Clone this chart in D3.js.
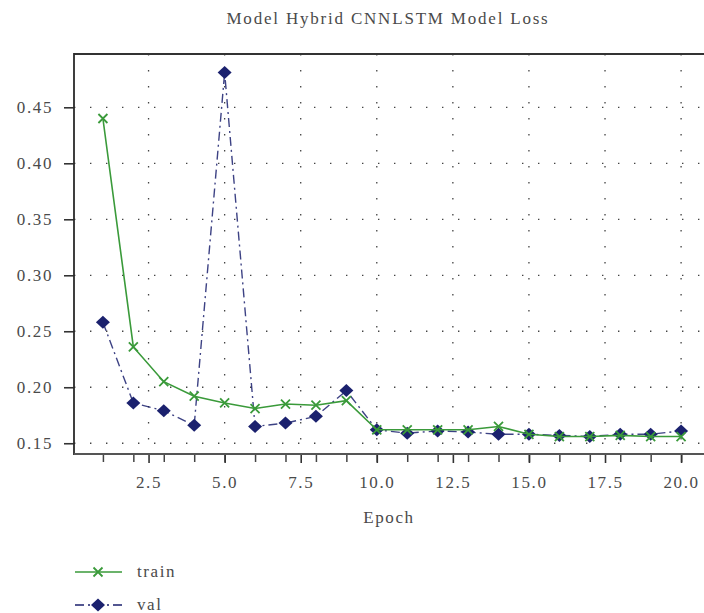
<!DOCTYPE html>
<html>
<head>
<meta charset="utf-8">
<script src="https://cdn.jsdelivr.net/npm/d3@7"></script>
<style>
  html, body { margin: 0; padding: 0; background: #fff; }
  svg { display: block; }
  text { font-family: "Liberation Serif", "Times New Roman", serif; fill: #4a4a4a; }
</style>
</head>
<body>
<svg id="chart" width="704" height="613"></svg>
<script>
// Training history of the hybrid CNN-LSTM model, per epoch
const epochs = d3.range(1, 21);
const trainLoss = [0.440, 0.236, 0.205, 0.192, 0.186, 0.181, 0.185, 0.184, 0.188, 0.162,
                   0.162, 0.162, 0.162, 0.165, 0.158, 0.156, 0.156, 0.157, 0.156, 0.156];
const valLoss   = [0.258, 0.186, 0.179, 0.166, 0.481, 0.165, 0.168, 0.174, 0.197, 0.162,
                   0.159, 0.161, 0.160, 0.158, 0.158, 0.157, 0.156, 0.158, 0.158, 0.161];
const yTicks = [0.15, 0.20, 0.25, 0.30, 0.35, 0.40, 0.45];
const xTicks = [2.5, 5.0, 7.5, 10.0, 12.5, 15.0, 17.5, 20.0];
const seriesNames = ["train", "val"];

const W = 704, H = 613;
const plot = { left: 74, top: 54, right: 710, bottom: 454 };
const trainColor = "#3a9a3a";
const valColor = "#1b216e";
const valDash = "9,4,2,4";
const fontSize = 17;
const spacing = 1.6;

const svg = d3.select("#chart");

const x = d3.scaleLinear().domain([0.05, 20.95]).range([plot.left, plot.right]);
const y = d3.scaleLinear().domain([0.1404, 0.4976]).range([plot.bottom, plot.top]);

// dotted grid
const grid = svg.append("g").attr("stroke", "#444").attr("stroke-width", 1.3)
  .attr("stroke-dasharray", "1.4,14.6").attr("fill", "none");
grid.selectAll("line.h").data(yTicks).join("line").attr("class", "h")
  .attr("x1", plot.left).attr("x2", W).attr("y1", d => y(d)).attr("y2", d => y(d));
grid.selectAll("line.v").data(xTicks).join("line").attr("class", "v")
  .attr("x1", d => x(d)).attr("x2", d => x(d)).attr("y1", plot.top).attr("y2", plot.bottom);

// frame: top border
svg.append("line").attr("x1", plot.left).attr("x2", W).attr("y1", plot.top).attr("y2", plot.top)
  .attr("stroke", "#333").attr("stroke-width", 2.2);

// y axis
const yAxis = svg.append("g").attr("transform", `translate(${plot.left},0)`)
  .call(d3.axisLeft(y).tickValues(yTicks).tickFormat(d3.format(".2f")).tickSize(10).tickPadding(11));
yAxis.attr("font-family", null).attr("font-size", null);
yAxis.select(".domain").remove();
yAxis.selectAll(".tick line").attr("stroke", "#333").attr("stroke-width", 1.6);
yAxis.selectAll(".tick text").attr("font-size", fontSize).attr("fill", "#4a4a4a")
  .attr("letter-spacing", spacing);
svg.append("line").attr("x1", plot.left).attr("x2", plot.left).attr("y1", plot.top - 1).attr("y2", plot.bottom + 1)
  .attr("stroke", "#2a2a2a").attr("stroke-width", 1.8);

// x axis: a minor tick per epoch, labelled ticks every 2.5
const xMinor = svg.append("g").attr("transform", `translate(0,${plot.bottom})`)
  .call(d3.axisBottom(x).tickValues(epochs).tickFormat("").tickSize(8));
xMinor.select(".domain").remove();
xMinor.selectAll(".tick line").attr("stroke", "#444").attr("stroke-width", 1.5);
const xAxis = svg.append("g").attr("transform", `translate(0,${plot.bottom})`)
  .call(d3.axisBottom(x).tickValues(xTicks).tickFormat(d3.format(".1f")).tickSize(9).tickPadding(13));
xAxis.attr("font-family", null).attr("font-size", null);
xAxis.select(".domain").remove();
xAxis.selectAll(".tick line").attr("stroke", "#333").attr("stroke-width", 1.6);
xAxis.selectAll(".tick text").attr("font-size", fontSize).attr("fill", "#4a4a4a")
  .attr("letter-spacing", spacing);
svg.append("line").attr("x1", plot.left).attr("x2", W).attr("y1", plot.bottom).attr("y2", plot.bottom)
  .attr("stroke", "#555").attr("stroke-width", 2);

// series
const lineGen = vals => d3.line().x((d, i) => x(epochs[i])).y(d => y(d))(vals);
const diamond = (cx, cy, rx = 7, ry = 6.5) =>
  `M${cx},${cy - ry}L${cx + rx},${cy}L${cx},${cy + ry}L${cx - rx},${cy}Z`;
const cross = (cx, cy, r = 4.5) =>
  `M${cx - r},${cy - r}L${cx + r},${cy + r}M${cx - r},${cy + r}L${cx + r},${cy - r}`;

svg.append("path").attr("d", lineGen(valLoss)).attr("fill", "none")
  .attr("stroke", valColor).attr("stroke-opacity", 0.85).attr("stroke-width", 1.4)
  .attr("stroke-dasharray", valDash);
svg.append("g").selectAll("path").data(valLoss).join("path")
  .attr("d", (d, i) => diamond(x(epochs[i]), y(d))).attr("fill", valColor);

svg.append("path").attr("d", lineGen(trainLoss)).attr("fill", "none")
  .attr("stroke", trainColor).attr("stroke-width", 1.6);
svg.append("g").selectAll("path").data(trainLoss).join("path")
  .attr("d", (d, i) => cross(x(epochs[i]), y(d))).attr("stroke", trainColor)
  .attr("stroke-width", 1.8).attr("fill", "none");

// title and axis label
svg.append("text").attr("x", 388).attr("y", 24).attr("text-anchor", "middle")
  .attr("font-size", fontSize).attr("letter-spacing", 1.8).text("Model Hybrid CNNLSTM Model Loss");
svg.append("text").attr("x", 389).attr("y", 523).attr("text-anchor", "middle")
  .attr("font-size", fontSize).attr("letter-spacing", spacing).text("Epoch");

// legend
const legend = svg.append("g");
const rows = [
  { name: seriesNames[0], y: 572, color: trainColor, dash: null, mark: "cross" },
  { name: seriesNames[1], y: 605, color: valColor, dash: valDash, mark: "diamond" }
];
rows.forEach(r => {
  legend.append("line").attr("x1", 75).attr("x2", 122).attr("y1", r.y).attr("y2", r.y)
    .attr("stroke", r.color).attr("stroke-width", 1.6).attr("stroke-dasharray", r.dash);
  if (r.mark === "cross") {
    legend.append("path").attr("d", cross(98, r.y)).attr("stroke", r.color)
      .attr("stroke-width", 1.8).attr("fill", "none");
  } else {
    legend.append("path").attr("d", diamond(98, r.y)).attr("fill", r.color);
  }
  legend.append("text").attr("x", 137).attr("y", r.y + 5).attr("font-size", fontSize)
    .attr("letter-spacing", spacing).text(r.name);
});
</script>
</body>
</html>
